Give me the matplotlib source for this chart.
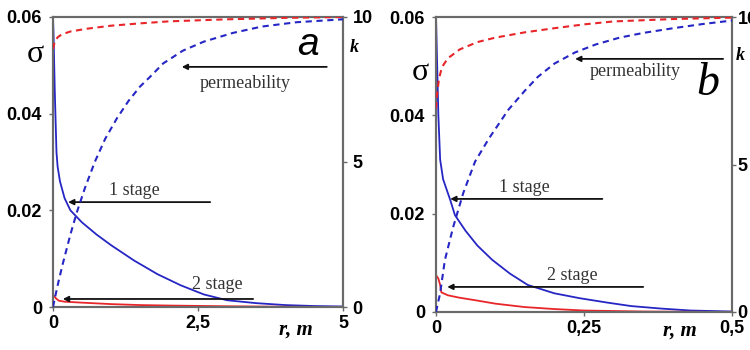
import matplotlib
matplotlib.use("Agg")
import matplotlib.pyplot as plt

# ---- panel a (r up to 5 m) ----
A_R_S1 = [0, 0.01, 0.03, 0.06, 0.08, 0.12, 0.2, 0.3, 0.5, 0.75, 1.0, 1.4, 1.8, 2.2, 2.6, 3.0, 3.5, 4.0, 4.5, 5.0]
A_SIG_S1 = [0.06, 0.056, 0.045, 0.032, 0.029, 0.026, 0.0225, 0.020, 0.0175, 0.0150, 0.0128, 0.0096,
            0.0068, 0.0045, 0.0026, 0.0014, 0.0008, 0.0004, 0.0002, 0.0001]
A_R_S2 = [0, 0.05, 0.1, 0.2, 0.5, 1.0, 1.5, 2.0, 3.0, 4.0, 5.0]
A_SIG_S2 = [0.0025, 0.0018, 0.0013, 0.0011, 0.0009, 0.0006, 0.0004, 0.0003, 0.00015, 0.00005, 0.0]
A_R_K2 = [0, 0.03, 0.08, 0.15, 0.3, 0.6, 1.0, 1.5, 2.0, 3.0, 4.0, 5.0]
A_K2 = [8.9, 9.15, 9.3, 9.4, 9.5, 9.6, 9.7, 9.78, 9.85, 9.92, 9.97, 10.0]
A_R_K1 = [0, 0.05, 0.1, 0.17, 0.3, 0.41, 0.55, 0.72, 0.9, 1.1, 1.3, 1.5, 1.67, 1.9, 2.24,
          2.6, 3.1, 3.6, 4.2, 5.0]
A_K1 = [0, 0.47, 0.92, 1.5, 2.5, 3.26, 4.1, 5.0, 5.8, 6.5, 7.1, 7.6, 7.93, 8.4, 8.84,
        9.15, 9.45, 9.67, 9.82, 9.92]
A_XTICKS = [0, 2.5, 5]
A_XLABELS = ["0", "2,5", "5"]

# ---- panel b (r up to 0.5 m) ----
B_R_S1 = [0, 0.002, 0.004, 0.007, 0.012, 0.024, 0.032, 0.05, 0.07, 0.095, 0.125, 0.155, 0.2,
          0.243, 0.29, 0.33, 0.38, 0.43, 0.5]
B_SIG_S1 = [0.06, 0.05, 0.04, 0.031, 0.027, 0.0228, 0.0197, 0.0165, 0.0135, 0.0106, 0.0078, 0.0055,
            0.0038, 0.0028, 0.0019, 0.0012, 0.0007, 0.0003, 0.0001]
B_R_S2 = [0, 0.004, 0.007, 0.009, 0.02, 0.04, 0.066, 0.1, 0.15, 0.2, 0.25, 0.35, 0.5]
B_SIG_S2 = [0.0075, 0.0068, 0.0055, 0.0040, 0.0034, 0.0029, 0.0024, 0.0017, 0.0010, 0.0006, 0.0003, 0.0001, 0.0]
B_R_K2 = [0, 0.002, 0.005, 0.01, 0.02, 0.04, 0.07, 0.1, 0.15, 0.2, 0.25, 0.3, 0.4, 0.5]
B_K2 = [6.9, 7.4, 7.9, 8.3, 8.6, 8.9, 9.15, 9.3, 9.48, 9.62, 9.75, 9.85, 9.93, 9.98]
B_R_K1 = [0, 0.007, 0.015, 0.029, 0.046, 0.066, 0.09, 0.122, 0.15, 0.172, 0.2, 0.235, 0.27,
          0.31, 0.35, 0.404, 0.45, 0.5]
B_K1 = [0, 0.64, 1.76, 2.88, 4.03, 5.1, 5.9, 6.85, 7.5, 7.97, 8.42, 8.8, 9.07,
        9.3, 9.46, 9.63, 9.76, 9.88]
B_XTICKS = [0, 0.25, 0.5]
B_XLABELS = ["0", "0,25", "0,5"]

SIG_TICKS = [0, 0.02, 0.04, 0.06]
SIG_LABELS = ["0", "0.02", "0.04", "0.06"]
K_TICKS = [0, 5, 10]
K_LABELS = ["0", "5", "10"]

BLUE = "#2626c4"
RED = "#e8262a"
SPINE = "#6a6a6a"
TICKFONT = dict(family="Liberation Sans", weight="bold", size=13)
SERIF = "Liberation Serif"

W, H = 750, 350
fig = plt.figure(figsize=(7.5, 3.5), dpi=100)


def px_axes(x0, y0, x1, y1):
    return fig.add_axes([x0 / W, 1 - y1 / H, (x1 - x0) / W, (y1 - y0) / H])


def panel(ax, xmax, xticks, xlabels, s1, s2, k1, k2, kpad):
    ax.plot(*s1, color=BLUE, lw=1.3, zorder=3)
    ax.plot(*s2, color=RED, lw=1.3, zorder=3)
    ax.set_xlim(0, xmax)
    ax.set_ylim(0, 0.06)
    ax.set_xticks(xticks)
    ax.set_xticklabels(xlabels, **TICKFONT)
    ax.set_yticks(SIG_TICKS)
    ax.set_yticklabels(SIG_LABELS, **TICKFONT)
    ax.tick_params(length=3, width=1, color=SPINE, pad=3)
    ax.tick_params(axis="y", pad=5)
    axk = ax.twinx()
    axk.plot(*k2, color=RED, lw=1.5, dashes=(3, 2.2), zorder=3)
    axk.plot(*k1, color=BLUE, lw=1.5, dashes=(3, 2.2), zorder=3)
    axk.set_ylim(0, 10)
    axk.set_yticks(K_TICKS)
    axk.set_yticklabels(K_LABELS, **TICKFONT)
    axk.tick_params(length=3, width=1, color=SPINE, pad=kpad)
    for a in (ax, axk):
        for sp in a.spines.values():
            sp.set_color(SPINE)
            sp.set_linewidth(1.5)
    return axk


def arrow(ax, x_from, x_to, y):
    ax.annotate("", xy=(x_to, y), xytext=(x_from, y),
                arrowprops=dict(arrowstyle="-|>", lw=1.3, color="#111111",
                                mutation_scale=8, shrinkA=0, shrinkB=0))


lab = dict(family=SERIF, size=13, color="#333333", ha="center", va="center")

# panel a
axa = px_axes(53, 17, 343, 307)
ka = panel(axa, 5, A_XTICKS, A_XLABELS, (A_R_S1, A_SIG_S1), (A_R_S2, A_SIG_S2),
           (A_R_K1, A_K1), (A_R_K2, A_K2), 4)
arrow(ka, 4.72, 2.22, 8.28)
ka.text(3.31, 7.72, "permeability", **lab)
arrow(axa, 2.71, 0.26, 0.0217)
axa.text(1.41, 0.0242, "1 stage", **lab)
arrow(axa, 3.45, 0.17, 0.00166)
axa.text(2.84, 0.0046, "2 stage", **lab)
ka.text(4.40, 9.05, "a", family="Liberation Sans", style="italic", size=28,
        ha="center", va="center")

# panel b
axb = px_axes(436, 17, 732, 312)
kb = panel(axb, 0.5, B_XTICKS, B_XLABELS, (B_R_S1, B_SIG_S1), (B_R_S2, B_SIG_S2),
           (B_R_K1, B_K1), (B_R_K2, B_K2), 1)
arrow(kb, 0.485, 0.235, 8.58)
kb.text(0.336, 8.15, "permeability", **lab)
arrow(axb, 0.281, 0.024, 0.023)
axb.text(0.150, 0.0254, "1 stage", **lab)
arrow(axb, 0.35, 0.019, 0.0051)
axb.text(0.231, 0.0075, "2 stage", **lab)
kb.text(0.459, 7.75, "b", family=SERIF, style="italic", size=33,
        ha="center", va="center")


def ftext(x, y, s, **kw):
    fig.text(x / W, 1 - y / H, s, ha="center", va="center", **kw)


for (sx, sy), (kx, ky), (rx, ry) in [((35, 54), (354, 48), (296, 330)),
                                     ((420, 72), (740, 55), (680, 331))]:
    ftext(sx, sy, "σ", family=SERIF, size=23)
    ftext(kx, ky, "k", family=SERIF, style="italic", weight="bold", size=13)
    ftext(rx, ry, "r, m", family=SERIF, style="italic", weight="bold", size=15)

fig.savefig("out.png", dpi=100)
